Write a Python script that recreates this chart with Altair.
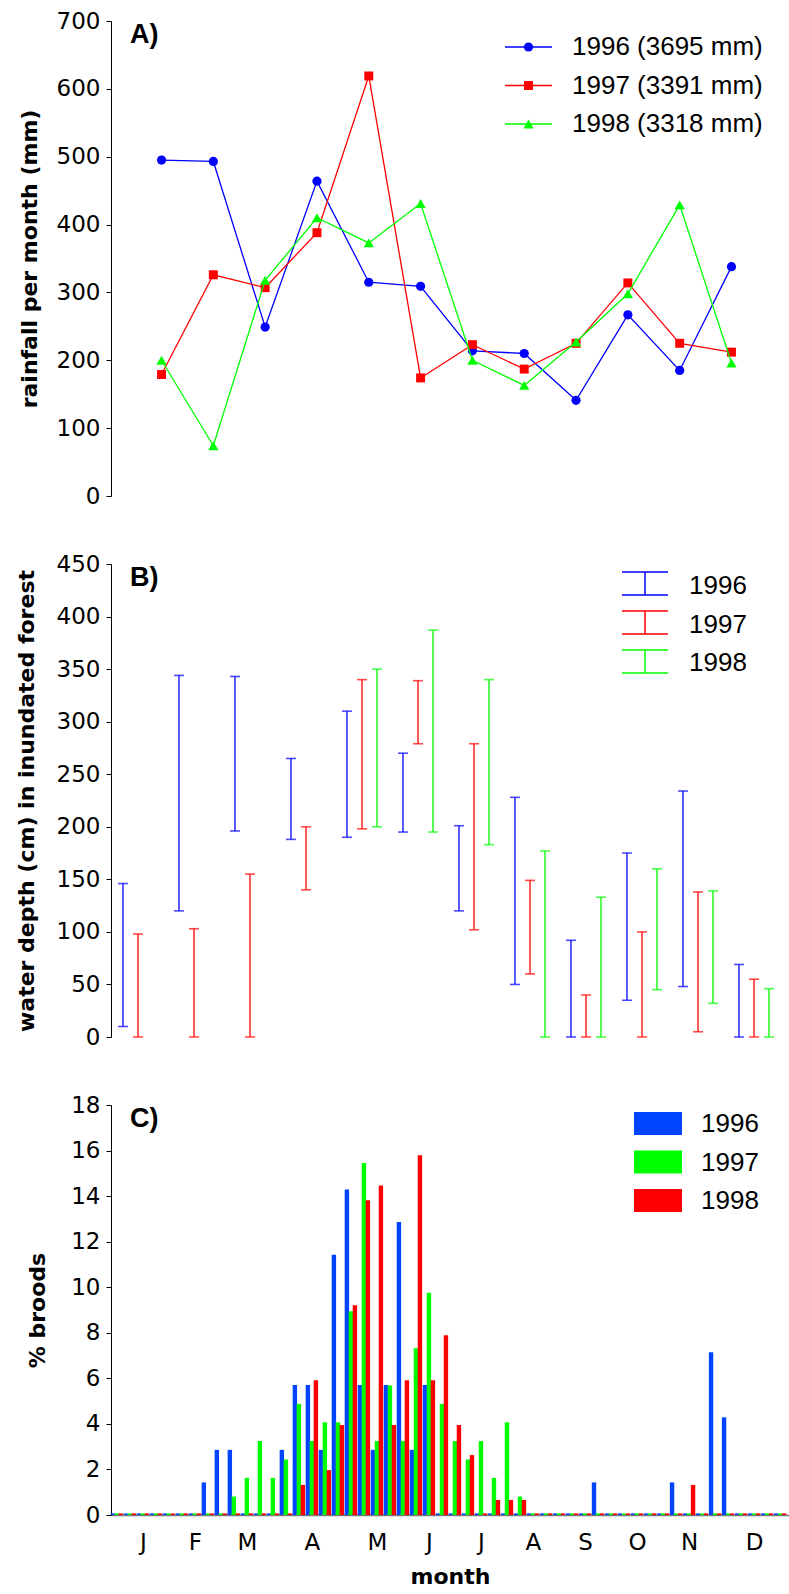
import altair as alt
import pandas as pd

# ---------------- data ----------------
years = ["1996", "1997", "1998"]
months = list(range(1, 13))
month_letters = ["J", "F", "M", "A", "M", "J", "J", "A", "S", "O", "N", "D"]

# A) monthly rainfall (mm)
rain_1996 = [495, 493, 249, 464, 315, 309, 214, 210, 141, 267, 185, 338]
rain_1997 = [179, 326, 307, 388, 619, 174, 223, 187, 225, 314, 225, 212]
rain_1998 = [200, 74, 318, 410, 373, 431, 200, 163, 227, 298, 429, 196]
annual_rain = [3695, 3391, 3318]

# B) monthly range of water depth in the inundated forest (cm)
depth_lo_1996 = [10, 120, 196, 188, 190, 195, 120, 50, 0, 35, 48, 0]
depth_hi_1996 = [146, 344, 343, 265, 310, 270, 201, 228, 92, 175, 234, 69]
depth_lo_1997 = [0, 0, 0, 140, 198, 279, 102, 60, 0, 0, 5, 0]
depth_hi_1997 = [98, 103, 155, 200, 340, 339, 279, 149, 40, 100, 138, 55]
depth_lo_1998 = [None, None, None, None, 200, 195, 183, 0, 0, 45, 32, 0]
depth_hi_1998 = [None, None, None, None, 350, 387, 340, 177, 133, 160, 139, 46]

# C) share of broods per week (%)
weeks = list(range(52))
broods_1996 = [0, 0, 0, 0, 0, 0, 0, 1.43, 2.86, 2.86,
               0, 0, 0, 2.86, 5.71, 5.71, 2.86, 11.43, 14.29, 5.71,
               2.86, 5.71, 12.86, 2.86, 5.71, 0, 0, 0, 0, 0,
               0, 0, 0, 0, 0, 0, 0, 1.43, 0, 0,
               0, 0, 0, 1.43, 0, 0, 7.14, 4.29, 0, 0,
               0, 0]
broods_1997 = [0, 0, 0, 0, 0, 0, 0, 0, 0, 0.81,
               1.63, 3.25, 1.63, 2.44, 4.88, 3.25, 4.07, 4.07, 8.94, 15.45,
               3.25, 5.69, 3.25, 7.32, 9.76, 4.88, 3.25, 2.44, 3.25, 1.63,
               4.07, 0.81, 0, 0, 0, 0, 0, 0, 0, 0,
               0, 0, 0, 0, 0, 0, 0, 0, 0, 0,
               0, 0]
broods_1998 = [0, 0, 0, 0, 0, 0, 0, 0, 0, 0,
               0, 0, 0, 0, 1.32, 5.92, 1.97, 3.95, 9.21, 13.82,
               14.47, 3.95, 5.92, 15.79, 5.92, 7.89, 3.95, 2.63, 0, 0.66,
               0.66, 0.66, 0, 0, 0, 0, 0, 0, 0, 0,
               0, 0, 0, 0, 1.32, 0, 0, 0, 0, 0,
               0, 0]
month_tick_weeks = [2, 6, 10, 15, 20, 24, 28, 32, 36, 40, 44, 49]

# ---------------- styling ----------------
W = 678
HA, HB, HC = 475, 473, 410
LEGEND_FONT = "Liberation Sans"
TICK_FONT = "DejaVu Sans"

rain_colors = ["#0000FF", "#FF0000", "#00FF00"]
rain_shapes = ["circle", "square", "triangle-up"]
rain_sizes = [85, 80, 105]
depth_colors = ["#0000FF", "#FF0000", "#00FF00"]
depth_offsets = [-15, 0, 15]
brood_colors = ["#0044FF", "#00FF00", "#FF0000"]
brood_offsets = [-4.0, 0, 4.0]
BAR_W = 4.4

one_row = pd.DataFrame({"k": [0]})


def panel_label(text):
    return alt.Chart(pd.DataFrame({"label": [text]})).mark_text(
        font=LEGEND_FONT, fontSize=27, fontWeight="bold", align="left",
        baseline="middle", color="black"
    ).encode(text="label:N", x=alt.value(19), y=alt.value(14))


# ---------------- A) rainfall ----------------
rain_df = pd.DataFrame({
    "month": months * 3,
    "year": [y for y in years for _ in months],
    "rain": rain_1996 + rain_1997 + rain_1998,
})
xA = alt.X("month:Q", scale=alt.Scale(domain=[0.025, 13.11], nice=False, zero=False), axis=None)
yA = alt.Y("rain:Q", scale=alt.Scale(domain=[0, 700], nice=False),
           axis=alt.Axis(values=list(range(0, 701, 100)), title="rainfall per month (mm)",
                         titlePadding=15))

layers_a = []
for i, yr in enumerate(years):
    base = alt.Chart(rain_df).transform_filter(alt.datum.year == yr)
    layers_a.append(base.mark_line(color=rain_colors[i], strokeWidth=1.3).encode(x=xA, y=yA))
    layers_a.append(base.mark_point(shape=rain_shapes[i], filled=True, opacity=1,
                                    size=rain_sizes[i], color=rain_colors[i]).encode(x=xA, y=yA))
    row_y = 26 + 38.5 * i
    legend_txt = f"{yr} ({annual_rain[i]} mm)"
    layers_a.append(alt.Chart(one_row).mark_rule(color=rain_colors[i], strokeWidth=1.3).encode(
        x=alt.value(394), x2=alt.value(441), y=alt.value(row_y)))
    layers_a.append(alt.Chart(one_row).mark_point(shape=rain_shapes[i], filled=True, opacity=1,
                                                  size=rain_sizes[i], color=rain_colors[i]).encode(
        x=alt.value(417.5), y=alt.value(row_y)))
    layers_a.append(alt.Chart(one_row).mark_text(font=LEGEND_FONT, fontSize=26, align="left",
                                                 baseline="middle", color="black").encode(
        text=alt.value(legend_txt), x=alt.value(461), y=alt.value(row_y)))
layers_a.append(panel_label("A)"))
chart_a = alt.layer(*layers_a).properties(width=W, height=HA)

# ---------------- B) water depth ----------------
depth_rows = []
for yr, lo, hi in zip(years, [depth_lo_1996, depth_lo_1997, depth_lo_1998],
                      [depth_hi_1996, depth_hi_1997, depth_hi_1998]):
    for m, a, b in zip(months, lo, hi):
        if a is not None and b is not None:
            depth_rows.append({"month": m, "year": yr, "lo": a, "hi": b})
depth_df = pd.DataFrame(depth_rows)

xB = alt.X("month:Q", scale=alt.Scale(domain=[0.518, 12.625], nice=False, zero=False), axis=None)
yB_axis = alt.Axis(values=list(range(0, 451, 50)), title="water depth (cm) in inundated forest",
                   titlePadding=18)
yB_scale = alt.Scale(domain=[0, 450], nice=False)

layers_b = []
for i, yr in enumerate(years):
    base = alt.Chart(depth_df).transform_filter(alt.datum.year == yr)
    col, off = depth_colors[i], depth_offsets[i]
    layers_b.append(base.mark_rule(color=col, strokeWidth=1.3, xOffset=off).encode(
        x=xB, y=alt.Y("lo:Q", scale=yB_scale, axis=yB_axis), y2="hi:Q"))
    for fld in ["lo", "hi"]:
        layers_b.append(base.mark_tick(color=col, orient="horizontal", size=10, thickness=1.6,
                                       xOffset=off).encode(
            x=xB, y=alt.Y(f"{fld}:Q", scale=yB_scale, axis=yB_axis)))
    top, bot = 8 + 39 * i, 31 + 39 * i
    layers_b.append(alt.Chart(one_row).mark_rule(color=col, strokeWidth=1.5).encode(
        x=alt.value(511), x2=alt.value(557), y=alt.value(top)))
    layers_b.append(alt.Chart(one_row).mark_rule(color=col, strokeWidth=1.5).encode(
        x=alt.value(511), x2=alt.value(557), y=alt.value(bot)))
    layers_b.append(alt.Chart(one_row).mark_rule(color=col, strokeWidth=1.5).encode(
        x=alt.value(534), y=alt.value(top), y2=alt.value(bot)))
    layers_b.append(alt.Chart(one_row).mark_text(font=LEGEND_FONT, fontSize=26, align="left",
                                                 baseline="middle", color="black").encode(
        text=alt.value(yr), x=alt.value(578), y=alt.value(22 + 38.5 * i)))
layers_b.append(panel_label("B)"))
chart_b = alt.layer(*layers_b).properties(width=W, height=HB)

# ---------------- C) broods ----------------
brood_df = pd.DataFrame({
    "week": weeks * 3,
    "year": [y for y in years for _ in weeks],
    "pct": broods_1996 + broods_1997 + broods_1998,
})
label_expr = "{}[indexof({}, datum.value)]".format(
    "[" + ",".join(f"'{m}'" for m in month_letters) + "]",
    "[" + ",".join(str(v) for v in month_tick_weeks) + "]")
xC = alt.X("week:Q", scale=alt.Scale(domain=[-0.06, 51.3], nice=False, zero=False),
           axis=alt.Axis(values=month_tick_weeks, labelExpr=label_expr, title="month",
                         tickSize=0, domainColor="#777777", domainWidth=1.5,
                         labelPadding=16, titlePadding=12, labelFlush=False))
yC = alt.Y("pct:Q", scale=alt.Scale(domain=[0, 18], nice=False),
           axis=alt.Axis(values=list(range(0, 19, 2)), title="% broods", titlePadding=21))

layers_c = []
for i, yr in enumerate(years):
    base = alt.Chart(brood_df).transform_filter(alt.datum.year == yr)
    col, off = brood_colors[i], brood_offsets[i]
    # thin marker on the baseline for every week, including empty ones
    layers_c.append(base.mark_bar(color=col, size=BAR_W, xOffset=off).encode(
        x=xC, y=alt.value(HC - 1.6), y2=alt.value(HC)))
    layers_c.append(base.transform_filter(alt.datum.pct > 0).mark_bar(
        color=col, size=BAR_W, xOffset=off).encode(x=xC, y=yC))
    top = 7 + 38.5 * i
    layers_c.append(alt.Chart(one_row).mark_rect(color=col).encode(
        x=alt.value(523), x2=alt.value(571), y=alt.value(top), y2=alt.value(top + 23)))
    layers_c.append(alt.Chart(one_row).mark_text(font=LEGEND_FONT, fontSize=26, align="left",
                                                 baseline="middle", color="black").encode(
        text=alt.value(yr), x=alt.value(590), y=alt.value(top + 12)))
layers_c.append(panel_label("C)"))
chart_c = alt.layer(*layers_c).properties(width=W, height=HC)

chart = alt.vconcat(chart_a, chart_b, chart_c, spacing=45).properties(
    padding={"left": 15, "top": 10, "right": 0, "bottom": 0}
).configure_view(stroke=None).configure_axis(
    labelFont=TICK_FONT, labelFontSize=23, labelColor="black", labelPadding=6,
    titleFont=TICK_FONT, titleFontSize=22, titleFontWeight="bold", titleColor="black",
    domainColor="black", domainWidth=1, tickColor="black", tickSize=5, tickWidth=1,
    grid=False
)

chart.save("out.html", embed_options={"renderer": "svg", "actions": False})
